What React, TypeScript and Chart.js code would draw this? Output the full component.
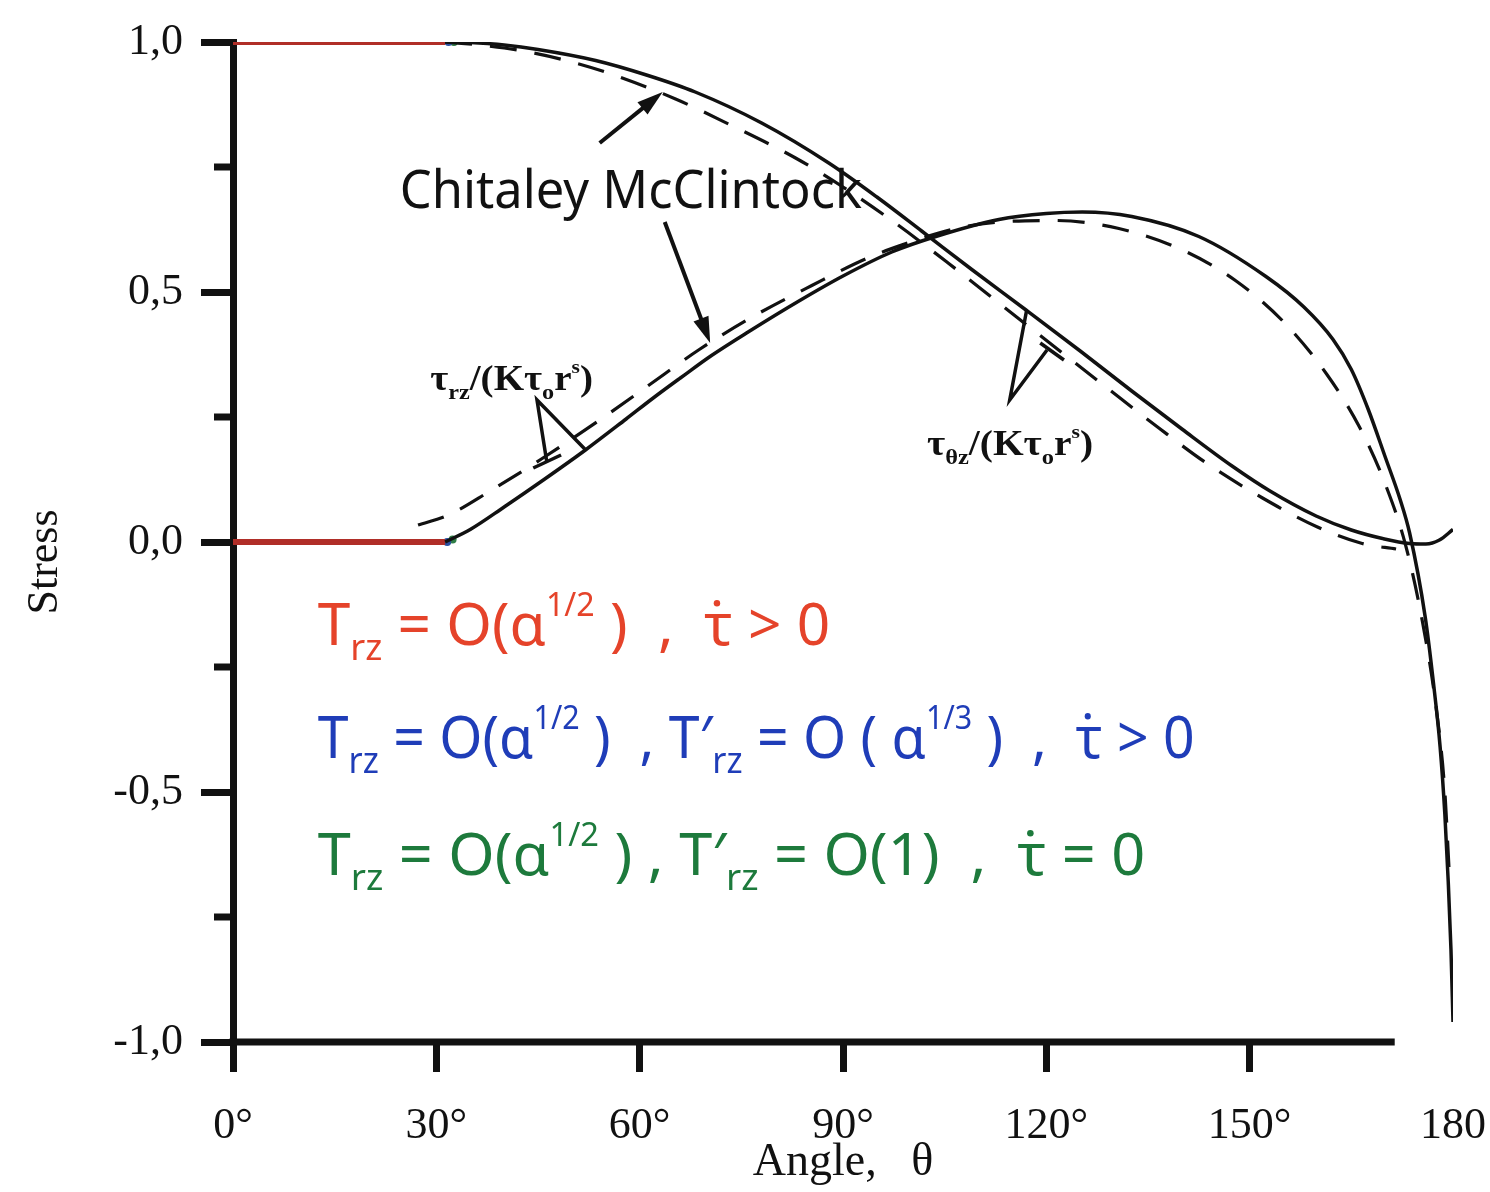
import React, { useEffect, useRef } from "react";
import { Chart, registerables } from "chart.js";

Chart.register(...registerables);

// ---------- axis ticks ----------
const xTickValues = [0, 30, 60, 90, 120, 150, 180];
const xTickLabels = ["0°", "30°", "60°", "90°", "120°", "150°", "180"];
const yTickValues = [-1, -0.5, 0, 0.5, 1];
const yTickLabels = ["-1,0", "-0,5", "0,0", "0,5", "1,0"];
const yMinorTicks = [-0.75, -0.25, 0.25, 0.75];
const yAxisTitle = "Stress";
const yAxisTitleAt = -0.04;

// ---------- series ----------
// tau_theta_z / (K tau_o r^s), present solution (solid)
const thetaZAngles = [31.3, 35, 40, 45, 53.5, 61, 68.2, 78, 87.9, 95, 101.6, 109, 117, 125, 132.6, 140, 147.4, 153, 159.8, 165, 169.6, 173.6, 176, 178, 180];
const thetaZValues = [1.0, 0.999, 0.994, 0.985, 0.963, 0.934, 0.9, 0.838, 0.758, 0.69, 0.622, 0.545, 0.464, 0.382, 0.302, 0.226, 0.152, 0.102, 0.052, 0.024, 0.007, -0.003, -0.004, 0.004, 0.025];

// tau_theta_z, Chitaley–McClintock (dashed)
const thetaZCMAngles = [31.3, 37, 43.6, 50, 55.8, 65.3, 73.1, 83, 90, 97.8, 105.6, 113, 121.9, 128.8, 136.6, 143.6, 151.9, 160, 166.6, 171.6];
const thetaZCMValues = [1.0, 0.993, 0.98, 0.96, 0.936, 0.886, 0.836, 0.768, 0.71, 0.637, 0.557, 0.478, 0.383, 0.31, 0.228, 0.158, 0.088, 0.03, -0.003, -0.014];

// tau_rz / (K tau_o r^s), present solution (solid)
const rzAngles = [31.3, 35, 40, 46, 52, 58, 62, 66, 70.6, 76, 83.5, 90, 97.2, 103.7, 113, 120, 125.3, 132.6, 142.5, 152.4, 158, 162.3, 165, 167.5, 170, 172.2, 173.6, 175.9, 177.1, 178.1, 178.8, 179.3, 179.7, 180];
const rzValues = [0, 0.025, 0.07, 0.126, 0.184, 0.246, 0.288, 0.328, 0.373, 0.42, 0.482, 0.532, 0.58, 0.611, 0.645, 0.657, 0.66, 0.651, 0.611, 0.531, 0.47, 0.405, 0.345, 0.265, 0.17, 0.085, 0.018, -0.15, -0.28, -0.41, -0.545, -0.68, -0.815, -0.96];

// tau_rz, Chitaley–McClintock (dashed)
const rzCMAngles = [27.3, 31.8, 37.7, 45.5, 53.9, 61, 68.8, 77, 85.4, 93.8, 100, 106, 113, 121.3, 130.7, 139.9, 147.9, 155.1, 161.4, 166.2, 170, 173, 175.5, 177.5, 178.8, 179.4];
const rzCMValues = [0.034, 0.054, 0.1, 0.166, 0.242, 0.31, 0.385, 0.453, 0.513, 0.569, 0.6, 0.625, 0.64, 0.643, 0.627, 0.585, 0.523, 0.439, 0.335, 0.23, 0.116, -0.006, -0.16, -0.33, -0.5, -0.65];

// red hand-drawn segments on 0..30°
const redAngles = [0, 31.3];
const redTopValues = [1, 1];
const redBottomValues = [0, 0];

// small blue / green marks at the junction
const blueMarkAngles = [31.8, 31.6];
const blueMarkValues = [1.0, 0.0];
const greenMarkAngles = [32.6, 32.4];
const greenMarkValues = [1.0, 0.005];

const xAxisEndAngle = 171.4;

const zip = (xs: number[], ys: number[]) => xs.map((x, i) => ({ x, y: ys[i] }));

type Seg = [string, number]; // 0 normal, 1 subscript, 2 superscript, 3 normal with dot above

function drawRich(
  ctx: CanvasRenderingContext2D,
  segs: Seg[],
  x: number,
  y: number,
  size: number,
  family: string,
  color: string,
  targetW: number,
  weight = "normal"
) {
  const sc = (k: number) => (k === 1 ? 0.62 : k === 2 ? 0.55 : 1);
  const off = (k: number) => (k === 1 ? 0.26 * size : k === 2 ? -0.5 * size : 0);
  let total = 0;
  segs.forEach(([t, k]) => {
    ctx.font = `${weight} ${size * sc(k)}px ${family}`;
    total += ctx.measureText(t).width;
  });
  const sx = targetW > 0 ? targetW / total : 1;
  ctx.save();
  ctx.translate(x, y);
  ctx.scale(sx, 1);
  ctx.fillStyle = color;
  ctx.textBaseline = "alphabetic";
  ctx.textAlign = "left";
  let cx = 0;
  segs.forEach(([t, k]) => {
    ctx.font = `${weight} ${size * sc(k)}px ${family}`;
    ctx.fillText(t, cx, off(k));
    const w = ctx.measureText(t).width;
    if (k === 3) {
      ctx.beginPath();
      ctx.arc(cx + w * 0.45, -0.72 * size, size * 0.055, 0, Math.PI * 2);
      ctx.fill();
    }
    cx += w;
  });
  ctx.restore();
}

const HAND = '"Noto Sans", sans-serif';
const SERIF = '"Liberation Serif", "DejaVu Serif", serif';
const TAU = "\u03C4";

const redEq: Seg[] = [["T", 0], ["rz", 1], [" = O(\u03B1", 0], ["1/2", 2], [" )  ,  ", 0], [TAU, 3], [" > 0", 0]];
const blueEq: Seg[] = [["T", 0], ["rz", 1], [" = O(\u03B1", 0], ["1/2", 2], [" )  , T\u2032", 0], ["rz", 1], [" = O ( \u03B1", 0], ["1/3", 2], [" )  ,  ", 0], [TAU, 3], [" > 0", 0]];
const greenEq: Seg[] = [["T", 0], ["rz", 1], [" = O(\u03B1", 0], ["1/2", 2], [" ) , T\u2032", 0], ["rz", 1], [" = O(1)  ,  ", 0], [TAU, 3], [" = 0", 0]];

const rzLabel: Seg[] = [["\u03C4", 0], ["rz", 1], ["/(K\u03C4", 0], ["o", 1], ["r", 0], ["s", 2], [")", 0]];
const thetaLabel: Seg[] = [["\u03C4", 0], ["\u03B8z", 1], ["/(K\u03C4", 0], ["o", 1], ["r", 0], ["s", 2], [")", 0]];

const annotPlugin = {
  id: "annot",
  afterDatasetsDraw(chart: any) {
    const ctx: CanvasRenderingContext2D = chart.ctx;
    const xs = chart.scales.x;
    const ys = chart.scales.y;
    const X = (v: number) => xs.getPixelForValue(v);
    const Y = (v: number) => ys.getPixelForValue(v);
    ctx.save();
    ctx.strokeStyle = "#111";
    ctx.fillStyle = "#111";
    ctx.lineCap = "butt";

    // x axis line (ends short of 180° as in the original)
    ctx.lineWidth = 7;
    ctx.beginPath();
    ctx.moveTo(X(0) - 3.5, Y(-1));
    ctx.lineTo(X(xAxisEndAngle), Y(-1));
    ctx.stroke();

    // minor y ticks
    yMinorTicks.forEach((v) => {
      ctx.beginPath();
      ctx.moveTo(X(0) - 19, Y(v));
      ctx.lineTo(X(0), Y(v));
      ctx.stroke();
    });

    // y axis title
    ctx.save();
    ctx.translate(45, Y(yAxisTitleAt));
    ctx.rotate(-Math.PI / 2);
    ctx.font = `44px ${SERIF}`;
    ctx.textAlign = "center";
    ctx.textBaseline = "middle";
    ctx.fillText(yAxisTitle, 0, 0);
    ctx.restore();

    // "Chitaley McClintock"
    ctx.font = `52px ${HAND}`;
    const cmW = X(92.8) - X(24.6);
    ctx.textBaseline = "alphabetic";
    ctx.textAlign = "left";
    ctx.fillText("Chitaley McClintock", X(24.6), Y(0.668), cmW);

    const arrow = (a: number[], b: number[]) => {
      const x1 = X(a[0]), y1 = Y(a[1]), x2 = X(b[0]), y2 = Y(b[1]);
      const ang = Math.atan2(y2 - y1, x2 - x1);
      const L = 26, W = 8;
      ctx.lineWidth = 4;
      ctx.beginPath();
      ctx.moveTo(x1, y1);
      ctx.lineTo(x2 - L * 0.8 * Math.cos(ang), y2 - L * 0.8 * Math.sin(ang));
      ctx.stroke();
      ctx.beginPath();
      ctx.moveTo(x2, y2);
      ctx.lineTo(x2 - L * Math.cos(ang) + W * Math.sin(ang), y2 - L * Math.sin(ang) - W * Math.cos(ang));
      ctx.lineTo(x2 - L * Math.cos(ang) - W * Math.sin(ang), y2 - L * Math.sin(ang) + W * Math.cos(ang));
      ctx.closePath();
      ctx.fill();
    };
    arrow([54.1, 0.798], [63.4, 0.9]);
    arrow([63.7, 0.64], [70.4, 0.398]);

    const poly = (pts: number[][]) => {
      ctx.lineWidth = 3.5;
      ctx.beginPath();
      pts.forEach((p, i) => (i === 0 ? ctx.moveTo(X(p[0]), Y(p[1])) : ctx.lineTo(X(p[0]), Y(p[1]))));
      ctx.stroke();
    };
    // Λ pointer for tau_rz
    poly([[46.3, 0.16], [44.85, 0.284], [51.9, 0.186]]);
    poly([[44.3, 0.148], [48.4, 0.174]]);
    // V pointer for tau_theta_z
    poly([[117.1, 0.464], [114.6, 0.284], [120.1, 0.384]]);
    poly([[119.1, 0.398], [122.6, 0.364]]);

    // labels
    drawRich(ctx, rzLabel, X(29.1), Y(0.304), 35, SERIF, "#111", X(53.1) - X(29.1), "bold");
    drawRich(ctx, thetaLabel, X(102.4), Y(0.174), 35, SERIF, "#111", X(126.9) - X(102.4), "bold");

    // coloured hand-written conditions
    drawRich(ctx, redEq, X(12.5), Y(-0.206), 58, HAND, "#e5432a", X(88.1) - X(12.5));
    drawRich(ctx, blueEq, X(12.5), Y(-0.432), 58, HAND, "#1f3db8", X(141.9) - X(12.5));
    drawRich(ctx, greenEq, X(12.5), Y(-0.666), 58, HAND, "#1d7a3c", X(134.6) - X(12.5));

    ctx.restore();
  },
};

export default function App() {
  const ref = useRef<HTMLCanvasElement | null>(null);
  useEffect(() => {
    document.body.style.margin = "0";
    if (!ref.current) return;
    const solid = { borderColor: "#111", borderWidth: 3.5, pointRadius: 0, showLine: true, fill: false, cubicInterpolationMode: "monotone" as const };
    const dashed = { ...solid, borderWidth: 3.2, borderDash: [27, 18] };
    const chart = new Chart(ref.current, {
      type: "scatter",
      data: {
        datasets: [
          { ...solid, data: zip(thetaZAngles, thetaZValues) },
          { ...dashed, data: zip(thetaZCMAngles, thetaZCMValues) },
          { ...solid, data: zip(rzAngles, rzValues) },
          { ...dashed, data: zip(rzCMAngles, rzCMValues) },
          { showLine: true, borderColor: "#b02e28", borderWidth: 6, pointRadius: 0, data: zip(redAngles, redTopValues) },
          { showLine: true, borderColor: "#b02e28", borderWidth: 6, pointRadius: 0, data: zip(redAngles, redBottomValues) },
          { showLine: false, pointRadius: 4, pointBackgroundColor: "#2a4fa0", pointBorderWidth: 0, data: zip(blueMarkAngles, blueMarkValues) },
          { showLine: false, pointRadius: 4, pointBackgroundColor: "#2e7d46", pointBorderWidth: 0, data: zip(greenMarkAngles, greenMarkValues) },
        ],
      },
      options: {
        animation: false,
        responsive: true,
        maintainAspectRatio: false,
        events: [],
        layout: { padding: { left: 0, right: 37, top: 42, bottom: 0 } },
        plugins: { legend: { display: false }, tooltip: { enabled: false } },
        scales: {
          x: {
            type: "linear",
            min: 0,
            max: 180,
            afterBuildTicks: (s: any) => {
              s.ticks = xTickValues.map((v) => ({ value: v }));
            },
            afterFit: (s: any) => {
              s.height = 150;
              s.paddingLeft = 0;
              s.paddingRight = 0;
            },
            border: { display: false },
            grid: {
              drawOnChartArea: false,
              drawTicks: true,
              tickLength: 30,
              tickWidth: 7,
              tickColor: (c: any) => (c.tick && c.tick.value === 180 ? "rgba(0,0,0,0)" : "#111"),
            },
            ticks: {
              maxRotation: 0,
              autoSkip: false,
              padding: 28,
              color: "#111",
              font: { family: SERIF, size: 44 },
              callback: (v: any) => {
                const i = xTickValues.indexOf(Number(v));
                return i >= 0 ? xTickLabels[i] : "";
              },
            },
            title: {
              display: true,
              text: "Angle,   \u03B8",
              color: "#111",
              font: { family: SERIF, size: 46, lineHeight: 1.0 },
              padding: { top: 0, bottom: 6 },
            },
          },
          y: {
            type: "linear",
            min: -1,
            max: 1,
            afterBuildTicks: (s: any) => {
              s.ticks = yTickValues.map((v) => ({ value: v }));
            },
            afterFit: (s: any) => {
              s.width = 233;
              s.paddingTop = 0;
              s.paddingBottom = 0;
            },
            border: { display: true, width: 7, color: "#111" },
            grid: { drawOnChartArea: false, drawTicks: true, tickLength: 32, tickWidth: 7, tickColor: "#111" },
            ticks: {
              autoSkip: false,
              padding: 18,
              color: "#111",
              font: { family: SERIF, size: 44 },
              callback: (v: any) => {
                const i = yTickValues.indexOf(Number(v));
                return i >= 0 ? yTickLabels[i] : "";
              },
            },
            title: { display: false },
          },
        },
      },
      plugins: [annotPlugin],
    });
    return () => chart.destroy();
  }, []);
  return (
    <div style={{ width: 1490, height: 1192, position: "relative", background: "#fff" }}>
      <canvas ref={ref} />
    </div>
  );
}
